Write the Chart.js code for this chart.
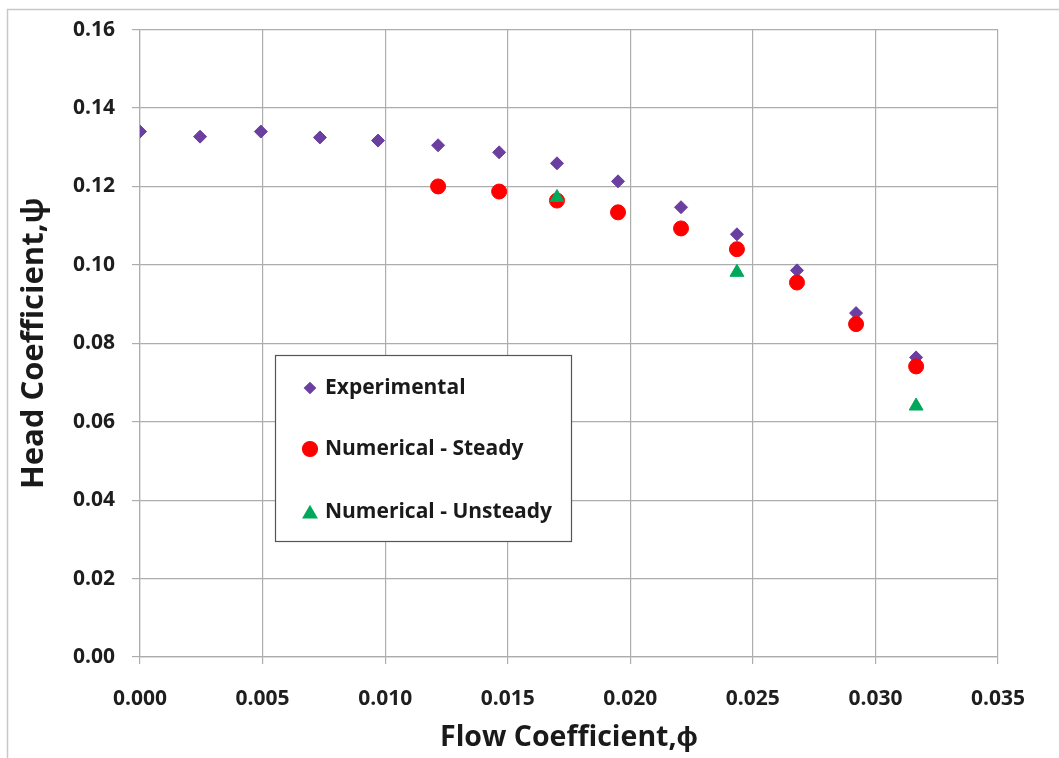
<!DOCTYPE html>
<html>
<head>
<meta charset="utf-8">
<script src="https://cdn.jsdelivr.net/npm/chart.js@4.4.1/dist/chart.umd.min.js"></script>
<style>
    body { margin: 0; background: #fff; }
    canvas { display: block; }
</style>
</head>
<body>
<canvas id="headChart" width="1059" height="758"></canvas>
<script>
const flowExp = [0.0000, 0.00245, 0.00493, 0.00734, 0.00971, 0.01216, 0.01465, 0.01701, 0.0195, 0.02207, 0.02435, 0.0268, 0.02921, 0.03166];
const headExp = [0.1340, 0.1327, 0.1340, 0.1325, 0.1317, 0.1305, 0.1287, 0.1259, 0.1213, 0.1147, 0.1078, 0.0986, 0.0877, 0.0764];

const flowSteady = [0.01216, 0.01465, 0.01701, 0.0195, 0.02207, 0.02435, 0.0268, 0.02921, 0.03166];
const headSteady = [0.1200, 0.1187, 0.1164, 0.1134, 0.1093, 0.1040, 0.0955, 0.0849, 0.0741];

const flowUnsteady = [0.01701, 0.02435, 0.03166];
const headUnsteady = [0.1172, 0.0981, 0.0640];

const xTicks = [0, 0.005, 0.010, 0.015, 0.020, 0.025, 0.030, 0.035];
const yTicks = [0, 0.02, 0.04, 0.06, 0.08, 0.10, 0.12, 0.14, 0.16];

const seriesNames = ['Experimental', 'Numerical - Steady', 'Numerical - Unsteady'];

const toPoints = (xs, ys) => xs.map((x, i) => ({ x: x, y: ys[i] }));

const fontFamily = '"Open Sans", "Liberation Sans", sans-serif';
const gridColor = '#adadad';

const frame = {
    id: 'frame',
    beforeDraw(chart) {
        const ctx = chart.ctx;
        ctx.save();
        ctx.fillStyle = '#fff';
        ctx.fillRect(0, 0, chart.width, chart.height);
        ctx.strokeStyle = '#c8c8c8';
        ctx.lineWidth = 1.5;
        ctx.strokeRect(7.5, 9.5, chart.width + 20, chart.height + 20);
        ctx.restore();
    }
};

const boxLegend = {
    id: 'boxLegend',
    afterDraw(chart) {
        const ctx = chart.ctx;
        ctx.save();
        ctx.fillStyle = '#fff';
        ctx.fillRect(275, 355, 296, 186);
        ctx.strokeStyle = '#555';
        ctx.lineWidth = 1.2;
        ctx.strokeRect(275.5, 355.5, 296, 186);
        const rows = [388, 449, 512];
        const sizes = [5.5, 7.5, 8];
        chart.data.datasets.forEach((ds, i) => {
            ctx.fillStyle = ds.backgroundColor;
            ctx.strokeStyle = ds.borderColor;
            Chart.helpers.drawPoint(ctx, {
                pointStyle: ds.pointStyle,
                radius: sizes[i],
                rotation: 0,
                borderWidth: 1
            }, 310, rows[i] + (ds.pointStyle === 'triangle' ? 2 : 0));
            ctx.fillStyle = '#1a1a1a';
            ctx.font = 'bold 21px ' + fontFamily;
            ctx.textBaseline = 'middle';
            ctx.fillText(ds.label, 325, rows[i]);
        });
        ctx.restore();
    }
};

const ctx = document.getElementById('headChart').getContext('2d');

new Chart(ctx, {
    type: 'scatter',
    data: {
        datasets: [{
            label: seriesNames[0],
            data: toPoints(flowExp, headExp),
            pointStyle: 'rectRot',
            pointRadius: 6.5,
            backgroundColor: '#6B3FA0',
            borderColor: '#6B3FA0',
            borderWidth: 1,
            order: 3
        }, {
            label: seriesNames[1],
            data: toPoints(flowSteady, headSteady),
            pointStyle: 'circle',
            pointRadius: 7.5,
            backgroundColor: '#FF0000',
            borderColor: '#FF0000',
            borderWidth: 1,
            order: 2
        }, {
            label: seriesNames[2],
            data: toPoints(flowUnsteady, headUnsteady),
            pointStyle: 'triangle',
            pointRadius: 8,
            backgroundColor: '#00A859',
            borderColor: '#00A859',
            borderWidth: 1,
            order: 1
        }]
    },
    options: {
        responsive: false,
        animation: false,
        layout: {
            padding: { left: 0, top: 29.5, right: 61, bottom: 0 }
        },
        plugins: {
            legend: { display: false },
            tooltip: { enabled: false }
        },
        scales: {
            x: {
                type: 'linear',
                min: 0,
                max: 0.035,
                afterFit: (scale) => { scale.height = 101; },
                afterBuildTicks: (scale) => { scale.ticks = xTicks.map(v => ({ value: v })); },
                grid: { color: gridColor, lineWidth: 1.2, tickLength: 7 },
                border: { color: gridColor, width: 1.2 },
                ticks: {
                    padding: 22,
                    maxRotation: 0,
                    color: '#1e1e1e',
                    font: { family: fontFamily, size: 21, weight: 'bold' },
                    callback: (v) => v.toFixed(3)
                },
                title: {
                    display: true,
                    text: 'Flow Coefficient,ϕ',
                    color: '#1a1a1a',
                    font: { family: fontFamily, size: 28.5, weight: 'bold' },
                    padding: { top: 0, bottom: 3 }
                }
            },
            y: {
                type: 'linear',
                min: 0,
                max: 0.16,
                afterFit: (scale) => { scale.width = 140; },
                afterBuildTicks: (scale) => { scale.ticks = yTicks.map(v => ({ value: v })); },
                grid: { color: gridColor, lineWidth: 1.2, tickLength: 8 },
                border: { color: gridColor, width: 1.2 },
                ticks: {
                    padding: 17,
                    color: '#1e1e1e',
                    font: { family: fontFamily, size: 21, weight: 'bold' },
                    callback: (v) => v.toFixed(2)
                },
                title: {
                    display: true,
                    text: 'Head Coefficient,ψ',
                    color: '#1a1a1a',
                    font: { family: fontFamily, size: 31, weight: 'bold' },
                    padding: { top: 16, bottom: 0 }
                }
            }
        }
    },
    plugins: [frame, boxLegend]
});
</script>
</body>
</html>
